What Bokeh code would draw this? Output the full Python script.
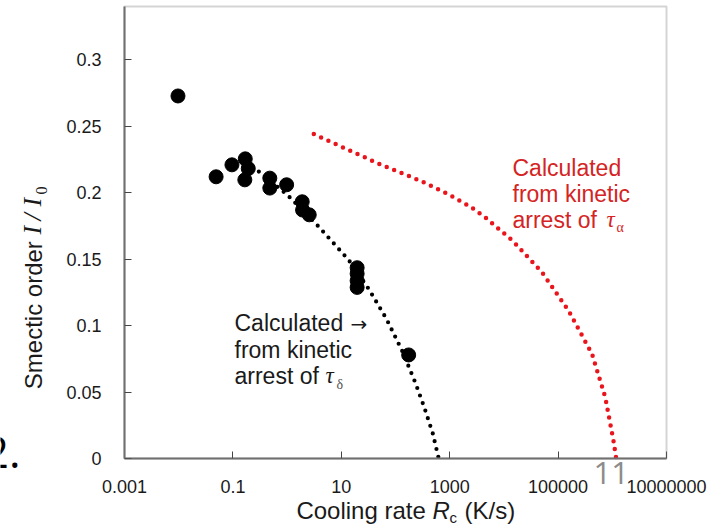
import math
from bokeh.plotting import figure
from bokeh.models import Range1d, FixedTicker, NumeralTickFormatter, Label, BoxAnnotation
from bokeh.embed import file_html
from bokeh.resources import INLINE

# ---------------- data ----------------
# measured smectic order vs cooling rate (black circles)
rate_measured = [0.0097, 0.049, 0.096, 0.169, 0.192, 0.166, 0.48, 0.48, 0.98,
                 1.9, 1.93, 2.56, 19.6, 19.6, 19.6, 19.6, 175]
order_measured = [0.2727, 0.2119, 0.2209, 0.2254, 0.2181, 0.2096, 0.2109, 0.2034, 0.2059,
                  0.1931, 0.1869, 0.1833, 0.1435, 0.1390, 0.1337, 0.1287, 0.0779]

# calculated from kinetic arrest of tau_delta (black dotted)
rate_delta = [0.301, 1.01, 3.85, 13.7, 32.1, 68.1, 134, 233, 342, 486, 627]
order_delta = [0.2158, 0.1983, 0.1743, 0.1493, 0.1275, 0.1050, 0.0806, 0.0569, 0.0381, 0.0190, 0.0]

# calculated from kinetic arrest of tau_alpha (red dotted)
rate_alpha = [3.11, 54.6, 288, 946, 2410, 4550, 14500, 50500, 156000, 422000, 741000, 1.05e6, 1.18e6]
order_alpha = [0.2440, 0.2209, 0.2089, 0.1987, 0.1894, 0.1813, 0.1638, 0.1400, 0.1112,
               0.0787, 0.0461, 0.0135, 0.0]

x_ticks = [1e-3, 1e-1, 1e1, 1e3, 1e5, 1e7]
y_ticks = [0, 0.05, 0.1, 0.15, 0.2, 0.25, 0.3]
x_lo, x_hi = 1e-3, 1e7
y_lo, y_hi = 0.0, 0.34

# ---------------- layout geometry (pixels) ----------------
W, H = 723, 525
BOX_L, BOX_R, BOX_T, BOX_B = 124, 666, 6, 458
ppd = (BOX_R - BOX_L) / (math.log10(x_hi) - math.log10(x_lo))
ppu = (BOX_B - BOX_T) / (y_hi - y_lo)
x_start = 10 ** (math.log10(x_lo) - BOX_L / ppd)
x_end = 10 ** (math.log10(x_hi) + (W - BOX_R) / ppd)
y_start = y_lo - (H - BOX_B) / ppu
y_end = y_hi + BOX_T / ppu


def xpx(px):
    return 10 ** (math.log10(x_lo) + (px - BOX_L) / ppd)


def ypx(py):
    return y_lo + (BOX_B - py) / ppu


p = figure(width=W, height=H, x_axis_type="log",
           x_range=Range1d(x_start, x_end), y_range=Range1d(y_start, y_end),
           toolbar_location=None, output_backend="svg", min_border=0)
p.background_fill_color = "white"
p.border_fill_color = "white"
p.outline_line_color = None
p.xgrid.visible = False
p.ygrid.visible = False

frame_color = "#707070"
p.add_layout(BoxAnnotation(left=x_lo, right=x_hi, bottom=y_lo, top=y_hi,
                           fill_color=None, line_color=frame_color, line_width=2))

xa, ya_ = p.xaxis[0], p.yaxis[0]
xa.fixed_location = y_lo
xa.bounds = (x_lo, x_hi)
ya_.fixed_location = x_lo
ya_.bounds = (y_lo, y_hi)
for ax in (xa, ya_):
    ax.axis_line_color = frame_color
    ax.axis_line_width = 2
    ax.major_tick_in = 7
    ax.major_tick_out = 0
    ax.major_tick_line_color = "#444444"
    ax.minor_tick_line_color = None
    ax.major_label_text_font = "Liberation Sans"
    ax.major_label_text_font_size = "18px"
    ax.major_label_text_color = "#1a1a1a"

xa.ticker = FixedTicker(ticks=x_ticks)
xa.formatter = NumeralTickFormatter(format="0.[000]")
xa.major_label_standoff = 21
ya_.ticker = FixedTicker(ticks=y_ticks)
ya_.formatter = NumeralTickFormatter(format="0.[00]")
ya_.major_label_standoff = 23

# curves
p.line(rate_alpha, order_alpha, line_color="#e8161c", line_width=4.5,
       line_dash="0 8", line_cap="round")
p.line(rate_delta, order_delta, line_color="black", line_width=4.2,
       line_dash="0 8", line_cap="round")
# measured points
p.scatter(rate_measured, order_measured, size=14, fill_color="black", line_color="black")

BASE_FIX = 0.39  # label baseline correction, in em


def lab(x, y, text, size, font="Liberation Sans", style="normal", color="#1a1a1a",
        align="left", xo=0, yo=0, angle=0.0):
    if angle:
        xo -= BASE_FIX * size
    else:
        yo += BASE_FIX * size
    p.add_layout(Label(x=x, y=y, text=text, text_font=font, text_font_size=f"{size}px",
                       text_font_style=style, text_color=color, text_align=align,
                       text_baseline="alphabetic", x_offset=xo, y_offset=yo,
                       angle=angle))


# black annotation
bx = xpx(234)
lab(bx, ypx(331), "Calculated", 23)
lab(bx, ypx(331), "\u2192", 20, font="DejaVu Sans", xo=116)
lab(bx, ypx(358), "from kinetic", 23)
lab(bx, ypx(384), "arrest of", 23)
lab(bx, ypx(384), "\u03c4", 23, font="Liberation Serif", style="italic", xo=91)
lab(bx, ypx(389), "\u03b4", 14, font="Liberation Serif", color="#555555", xo=102)

# red annotation
red = "#d42424"
rx = xpx(512)
lab(rx, ypx(176), "Calculated", 23, color=red)
lab(rx, ypx(202.5), "from kinetic", 23, color=red)
lab(rx, ypx(228), "arrest of", 23, color=red)
lab(rx, ypx(228), "\u03c4", 23, font="Liberation Serif", style="italic", color=red, xo=94)
lab(rx, ypx(232), "\u03b1", 14, font="Liberation Serif", color=red, xo=104)

# x axis title: Cooling rate R_c (K/s)
tx = xpx(432)
lab(tx, ypx(519), "Cooling rate ", 24, align="right")
lab(tx, ypx(519), "R", 24, style="italic")
lab(tx, ypx(523), "c", 15, xo=17)
lab(tx, ypx(519), "(K/s)", 24, xo=32)

# y axis title: Smectic order I/I0 (rotated)
sx, sy = xpx(42), ypx(234)
rot = math.pi / 2
lab(sx, sy, "Smectic order ", 24, align="right", angle=rot)
lab(sx, sy, "I", 26, font="Liberation Serif", style="italic", angle=rot)
lab(sx, sy, "/", 26, font="Liberation Serif", style="italic", yo=14, angle=rot)
lab(sx, sy, "I", 26, font="Liberation Serif", style="italic", yo=28, angle=rot)
lab(xpx(47), sy, "0", 16, font="Liberation Serif", yo=40, angle=rot)

# stray slide text
lab(xpx(20), ypx(469), "2.", 44, font="Open Sans", color="black", align="right")
lab(xpx(593), ypx(485), "11", 31, font="Open Sans", color="#8c8c8c")

open("out.html", "w").write(file_html(p, INLINE))
